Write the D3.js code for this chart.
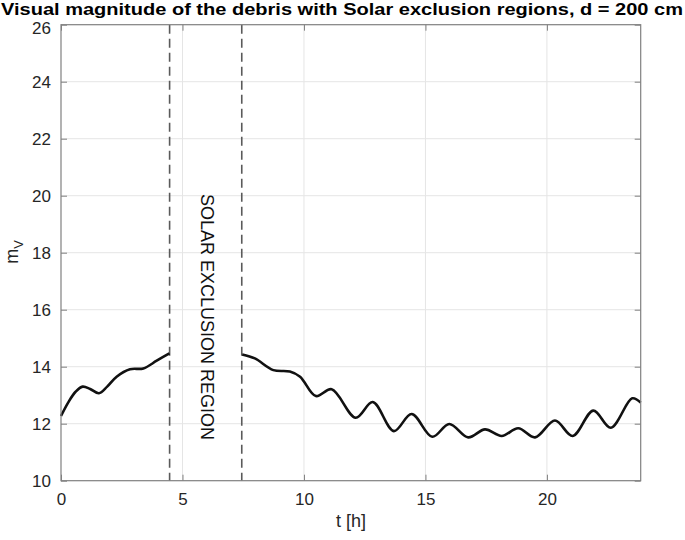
<!DOCTYPE html>
<html><head><meta charset="utf-8">
<script src="https://cdn.jsdelivr.net/npm/d3@7"></script>
<style>body{margin:0;background:#fff}</style>
</head><body>
<svg id="c" width="685" height="540"></svg>
<script>
const seg1T = [0, 0.3, 0.6, 0.89, 1.2, 1.56, 1.9, 2.29, 2.84, 3.39, 3.94, 4.46];
const seg1V = [12.27, 12.75, 13.12, 13.30, 13.22, 13.07, 13.30, 13.65, 13.91, 13.94, 14.21, 14.47];
const seg2T = [7.46, 7.98, 8.74, 9.42, 9.84, 10.49, 11.14, 12.13, 12.83, 13.70, 14.43, 15.28, 15.98, 16.76, 17.45, 18.14, 18.82, 19.51, 20.33, 21.06, 21.91, 22.63, 23.51, 23.86];
const seg2V = [14.43, 14.29, 13.88, 13.83, 13.65, 12.97, 13.21, 12.21, 12.76, 11.74, 12.34, 11.54, 11.99, 11.52, 11.80, 11.57, 11.84, 11.52, 12.11, 11.57, 12.46, 11.86, 12.89, 12.74];
const exclusion = [4.47, 7.44];
const xTicks = [0, 5, 10, 15, 20];
const yTicks = [10, 12, 14, 16, 18, 20, 22, 24, 26];
const titleText = "Visual magnitude of the debris with Solar exclusion regions, d = 200 cm";
const regionLabel = "SOLAR EXCLUSION REGION";

const svg = d3.select("#c");
const L = 61, R = 640.7, T = 24.7, B = 480.7;
const x = d3.scaleLinear().domain([0, 23.86]).range([L, R]);
const y = d3.scaleLinear().domain([10, 26]).range([B, T]);
const font = "'Liberation Sans', Arial, Helvetica, sans-serif";

// grid
const g = svg.append("g");
g.selectAll(".gx").data(xTicks.filter(d => d > 0)).enter().append("line")
  .attr("x1", d => x(d)).attr("x2", d => x(d)).attr("y1", T).attr("y2", B)
  .attr("stroke", "#e5e5e5").attr("stroke-width", 1);
g.selectAll(".gy").data(yTicks.filter(d => d > 10 && d < 26)).enter().append("line")
  .attr("y1", d => y(d)).attr("y2", d => y(d)).attr("x1", L).attr("x2", R)
  .attr("stroke", "#e5e5e5").attr("stroke-width", 1);

// exclusion lines
g.selectAll(".ex").data(exclusion).enter().append("line")
  .attr("x1", d => x(d)).attr("x2", d => x(d)).attr("y1", T).attr("y2", B)
  .attr("stroke", "#5a5a5a").attr("stroke-width", 1.6).attr("stroke-dasharray", "9,5");

// region label
const cx = x(d3.mean(exclusion)) + 1;
svg.append("text").text(regionLabel)
  .attr("transform", `translate(${cx},317) rotate(90)`)
  .attr("text-anchor", "middle").attr("dominant-baseline", "central")
  .attr("textLength", 246).attr("lengthAdjust", "spacingAndGlyphs")
  .attr("font-family", font).attr("font-size", 18).attr("fill", "#111");

// curves
const line = d3.line().x(d => x(d[0])).y(d => y(d[1])).curve(d3.curveCatmullRom.alpha(0.5));
[[seg1T, seg1V], [seg2T, seg2V]].forEach(([ts, vs]) => {
  svg.append("path").datum(ts.map((t, i) => [t, vs[i]]))
    .attr("d", line).attr("fill", "none").attr("stroke", "#111")
    .attr("stroke-width", 2.6).attr("stroke-linejoin", "round");
});

// axes box
svg.append("rect").attr("x", L).attr("y", T).attr("width", R - L).attr("height", B - T)
  .attr("fill", "none").attr("stroke", "#808080").attr("stroke-width", 1.2);

const ax = svg.append("g").attr("transform", `translate(0,${B})`)
  .call(d3.axisBottom(x).tickValues(xTicks).tickSize(-6).tickPadding(12).tickFormat(d3.format("d")));
const ay = svg.append("g").attr("transform", `translate(${L},0)`)
  .call(d3.axisLeft(y).tickValues(yTicks).tickSize(-6).tickPadding(10).tickFormat(d3.format("d")));
const ayr = svg.append("g").attr("transform", `translate(${R},0)`)
  .call(d3.axisRight(y).tickValues(yTicks).tickSize(-6).tickFormat(""));
const axt = svg.append("g").attr("transform", `translate(0,${T})`)
  .call(d3.axisTop(x).tickValues(xTicks).tickSize(-6).tickFormat(""));
[ax, ay, ayr, axt].forEach(a => {
  a.select(".domain").remove();
  a.selectAll("line").attr("stroke", "#808080");
  a.selectAll("text").attr("font-family", font).attr("font-size", 17).attr("fill", "#262626");
});
ay.selectAll(".tick").filter(d => d === 26).select("text").attr("dy", "0.5em");

// title
svg.append("text").text(titleText).attr("x", 342).attr("y", 14.5)
  .attr("text-anchor", "middle").attr("font-family", font).attr("font-weight", "bold")
  .attr("textLength", 682).attr("lengthAdjust", "spacingAndGlyphs")
  .attr("font-size", 17).attr("fill", "#000");

// axis labels
svg.append("text").text("t [h]").attr("x", 351).attr("y", 527)
  .attr("text-anchor", "middle").attr("font-family", font).attr("font-size", 18).attr("fill", "#262626");
const yl = svg.append("text").attr("transform", "translate(18,252) rotate(-90)")
  .attr("text-anchor", "middle").attr("font-family", font).attr("font-size", 18).attr("fill", "#262626");
yl.append("tspan").text("m");
yl.append("tspan").text("V").attr("font-size", 13).attr("dy", 5);
</script>
</body></html>
